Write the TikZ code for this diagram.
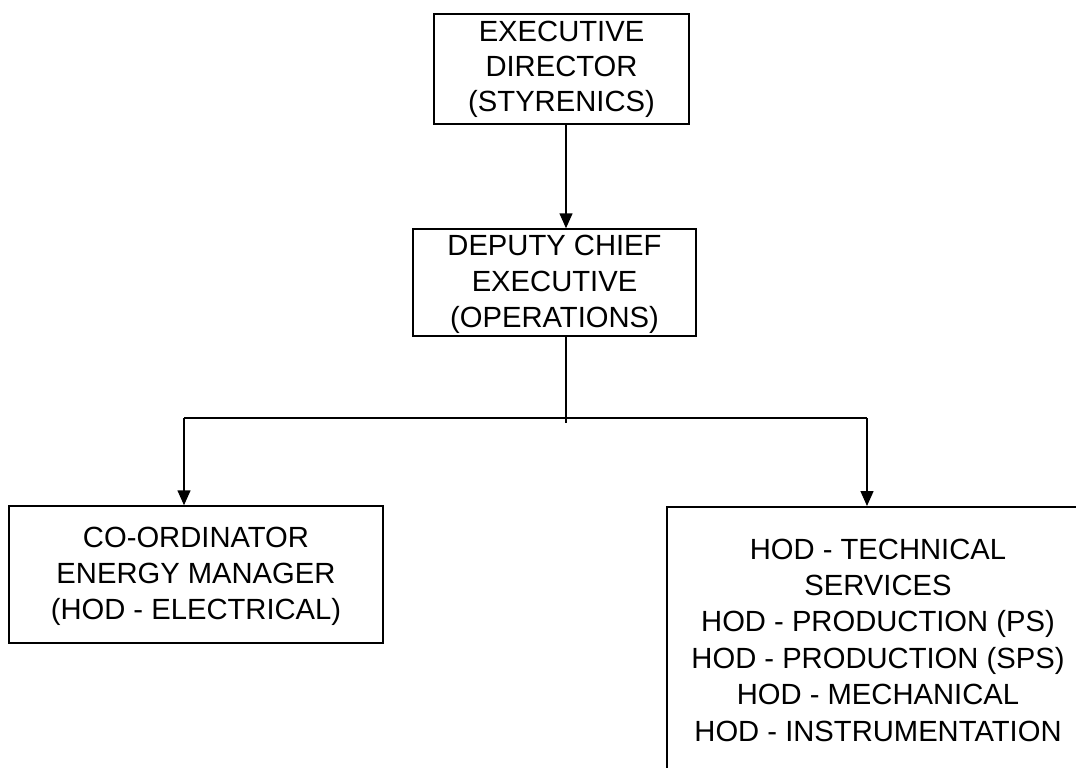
\documentclass[tikz,border=0pt]{standalone}
\usepackage{fontspec}
\setmainfont{Liberation Sans}
\usetikzlibrary{arrows.meta}
\begin{document}
\begin{tikzpicture}[x=1pt,y=-1pt,
  box/.style={draw,line width=1.5pt,rectangle,inner sep=0pt,align=center,
    font=\fontsize{29.2}{36}\selectfont},
  link/.style={line width=1.5pt},
  arrow/.style={link,-{Triangle[length=15pt,width=13pt]}}]
\useasboundingbox (0,0) rectangle (1076,768);
\clip (0,0) rectangle (1076,768);
\node[box,minimum width=255pt,minimum height=110pt,font=\fontsize{29.2}{35}\selectfont] (top) at (561.5,69) {EXECUTIVE\\DIRECTOR\\(STYRENICS)};
\node[box,minimum width=283pt,minimum height=107pt,text depth=0pt] (dce) at (554.5,282.5) {};
\node[align=center,inner sep=0pt,font=\fontsize{29.2}{36}\selectfont] (dcetext) at (554.5,284.5) {DEPUTY CHIEF\\EXECUTIVE\\(OPERATIONS)};
\node[box,minimum width=374pt,minimum height=137pt] (left) at (196,574.5) {};
\node[align=center,inner sep=0pt,font=\fontsize{29.2}{36}\selectfont] (lefttext) at (196,576.5) {CO-ORDINATOR\\ENERGY MANAGER\\(HOD - ELECTRICAL)};
\node[box,anchor=north west,minimum width=450pt,minimum height=320pt] (rbox) at (666,506) {};
\node[align=center,inner sep=0pt,font=\fontsize{29.2}{36.4}\selectfont] (rtext) at (878,640) {HOD - TECHNICAL\\SERVICES\\HOD - PRODUCTION (PS)\\HOD - PRODUCTION (SPS)\\HOD - MECHANICAL\\HOD - INSTRUMENTATION};
\coordinate (jn) at (566,418);
\coordinate (stub) at (566,423);
\coordinate (jl) at (184,418);
\coordinate (jr) at (867,418);
\draw[arrow] (top.south -| jn) -- (dce.north -| jn);
\draw[link] (dce.south -| jn) -- (stub);
\draw[link] (jl) -- (jr);
\draw[arrow] (jl) -- (left.north -| jl);
\draw[arrow] (jr) -- (rbox.north -| jr);
\end{tikzpicture}
\end{document}
